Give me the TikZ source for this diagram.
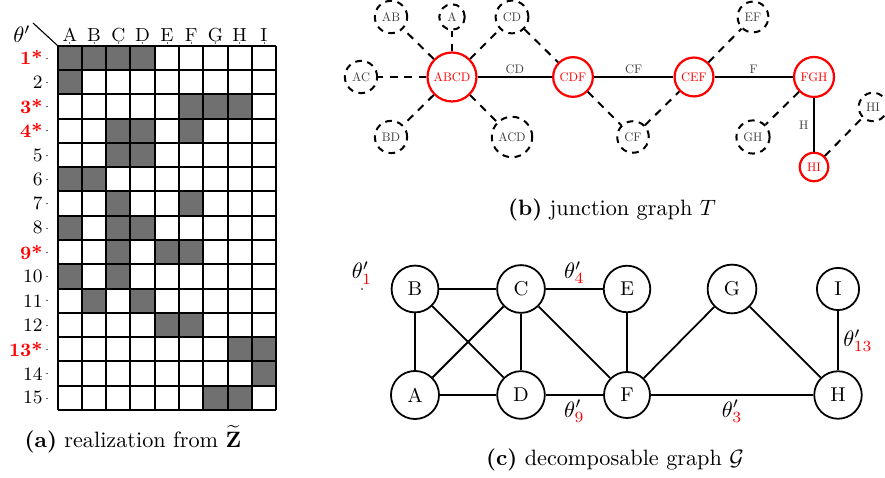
\documentclass[tikz,border=0pt]{standalone}
\usepackage{amsmath}
\newcommand{\jt}[1]{\scalebox{0.56}{#1}}
\begin{document}
\begin{tikzpicture}[x=0.45pt,y=-0.45pt,
  cellfill/.style={fill=black!56},
  gridline/.style={line width=0.9pt},
  rowlab/.style={anchor=east,font=\fontsize{8.5}{9}\selectfont,inner sep=0pt},
  rowred/.style={anchor=east,font=\fontsize{8.5}{9}\selectfont\bfseries,text=red,inner sep=0pt},
  collab/.style={font=\fontsize{8.5}{9}\selectfont,inner sep=0pt},
  tickmark/.style={line width=0.3pt,black!60},
  jred/.style={circle,draw=red,text=red,line width=1pt,inner sep=2pt},
  jdash/.style={circle,draw,dash pattern=on 3pt off 2.5pt,line width=0.9pt,inner sep=2pt,text=black!75},
  jsolid/.style={line width=0.9pt},
  jdashed/.style={line width=0.9pt,dash pattern=on 3.5pt off 3pt},
  elab/.style={inner sep=1pt,text=black!75},
  gnode/.style={circle,draw,line width=0.8pt,inner sep=4.3pt,font=\fontsize{9}{10}\selectfont},
  gedge/.style={line width=0.8pt},
  thlab/.style={font=\fontsize{10}{11}\selectfont,inner sep=1pt},
  caption/.style={font=\fontsize{10}{12}\selectfont}
]
\useasboundingbox (0,0) rectangle (885,478);
% ---------------- (a) matrix ----------------
\def\xo{57.7}\def\yo{45.7}\def\cw{24.26}\def\ch{24.29}
\foreach \r/\cols in {1/{1,2,3,4},2/{1},3/{6,7,8},4/{3,4,6},5/{3,4},6/{1,2},7/{3,6},8/{1,3,4},9/{3,5,6},10/{1,3},11/{2,4},12/{5,6},13/{8,9},14/{9},15/{7,8}}{
  \foreach \c in \cols {
    \fill[cellfill] ({\xo+(\c-1)*\cw},{\yo+(\r-1)*\ch}) rectangle ({\xo+\c*\cw},{\yo+\r*\ch});
  }
}
\foreach \i in {0,...,9} \draw[gridline] ({\xo+\i*\cw},\yo) -- ({\xo+\i*\cw},{\yo+15*\ch});
\foreach \j in {0,...,15} \draw[gridline] (\xo,{\yo+\j*\ch}) -- ({\xo+9*\cw},{\yo+\j*\ch});
\foreach \l [count=\i] in {A,B,C,D,E,F,G,H,I} {
  \node[collab] (col\i) at ({\xo+(\i-0.5)*\cw},35) {\l};
  \draw[tickmark] ({\xo+(\i-0.5)*\cw},42.5) -- ({\xo+(\i-0.5)*\cw},44.5);
}
\foreach \j in {1,...,15} \draw[tickmark] (45.5,{\yo+(\j-0.5)*\ch}) -- (47.5,{\yo+(\j-0.5)*\ch});
\foreach \j in {2,5,6,7,8,10,11,12,14,15} \node[rowlab] (row\j) at (43,{\yo+(\j-0.5)*\ch}) {\j};
\foreach \j in {1,3,4,9,13} \node[rowred] (row\j) at (43,{\yo+(\j-0.5)*\ch}) {\j*};
\node[collab,font=\fontsize{10}{11}\selectfont] (theta) at (22,34) {$\theta'$};
\draw[line width=0.5pt] (33,23) -- (\xo,\yo);
\node[caption] (capa) at (133,439) {\textbf{(a)} realization from $\widetilde{\mathbf{Z}}$};
% ---------------- (b) junction graph ----------------
\node[jred] (ABCD) at (452,77) {\jt{ABCD}};
\node[jred] (CDF) at (573,77) {\jt{CDF}};
\node[jred] (CEF) at (694,77) {\jt{CEF}};
\node[jred] (FGH) at (814,77) {\jt{FGH}};
\node[jred] (HIr) at (814,167) {\jt{HI}};
\node[jdash] (AB) at (391,17) {\jt{AB}};
\node[jdash] (A) at (452,17) {\jt{A}};
\node[jdash] (CDd) at (512,17) {\jt{CD}};
\node[jdash] (AC) at (361,77) {\jt{AC}};
\node[jdash] (BD) at (391,137) {\jt{BD}};
\node[jdash] (ACD) at (512,137) {\jt{ACD}};
\node[jdash] (CFd) at (633,137) {\jt{CF}};
\node[jdash] (EF) at (753,17) {\jt{EF}};
\node[jdash] (GH) at (753,137) {\jt{GH}};
\node[jdash] (HId) at (873,107) {\jt{HI}};
\draw[jsolid] (ABCD) -- node[elab,above] {\jt{CD}} (CDF);
\draw[jsolid] (CDF) -- node[elab,above] {\jt{CF}} (CEF);
\draw[jsolid] (CEF) -- node[elab,above] {\jt{F}} (FGH);
\draw[jsolid] (FGH) -- node[elab,left=1pt] {\jt{H}} (HIr);
\foreach \n in {AB,A,CDd,AC,BD,ACD} \draw[jdashed] (ABCD) -- (\n);
\draw[jdashed] (CDd) -- (CDF);
\draw[jdashed] (CDF) -- (CFd);
\draw[jdashed] (CFd) -- (CEF);
\draw[jdashed] (CEF) -- (EF);
\draw[jdashed] (FGH) -- (GH);
\draw[jdashed] (HIr) -- (HId);
\node[caption] (capb) at (612,210) {\textbf{(b)} junction graph $T$};
% ---------------- (c) decomposable graph ----------------
\node[gnode] (gB) at (415,289) {B};
\node[gnode] (gC) at (521,289) {C};
\node[gnode] (gE) at (627,289) {E};
\node[gnode] (gG) at (732,289) {G};
\node[gnode] (gI) at (838,289) {I};
\node[gnode] (gA) at (415,395) {A};
\node[gnode] (gD) at (521,395) {D};
\node[gnode] (gF) at (627,395) {F};
\node[gnode] (gH) at (838,395) {H};
\draw[gedge] (gB) -- (gC);
\draw[gedge] (gB) -- (gA);
\draw[gedge] (gB) -- (gD);
\draw[gedge] (gA) -- (gC);
\draw[gedge] (gA) -- (gD);
\draw[gedge] (gC) -- (gD);
\draw[gedge] (gC) -- node[thlab,above=1pt] {$\theta'_{\textcolor{red}{4}}$} (gE);
\draw[gedge] (gC) -- (gF);
\draw[gedge] (gD) -- node[thlab,below=1pt] {$\theta'_{\textcolor{red}{9}}$} (gF);
\draw[gedge] (gE) -- (gF);
\draw[gedge] (gF) -- (gG);
\draw[gedge] (gF) -- node[thlab,below=1pt] {$\theta'_{\textcolor{red}{3}}$} (gH);
\draw[gedge] (gG) -- (gH);
\draw[gedge] (gI) -- node[thlab,right=1pt] {$\theta'_{\textcolor{red}{13}}$} (gH);
\coordinate (t1) at (362,289);
\fill (t1) circle (0.4pt);
\node[thlab,above=1pt] (th1) at (t1) {$\theta'_{\textcolor{red}{1}}$};
\node[caption] (capc) at (615,460) {\textbf{(c)} decomposable graph $\mathcal{G}$};
\end{tikzpicture}
\end{document}
